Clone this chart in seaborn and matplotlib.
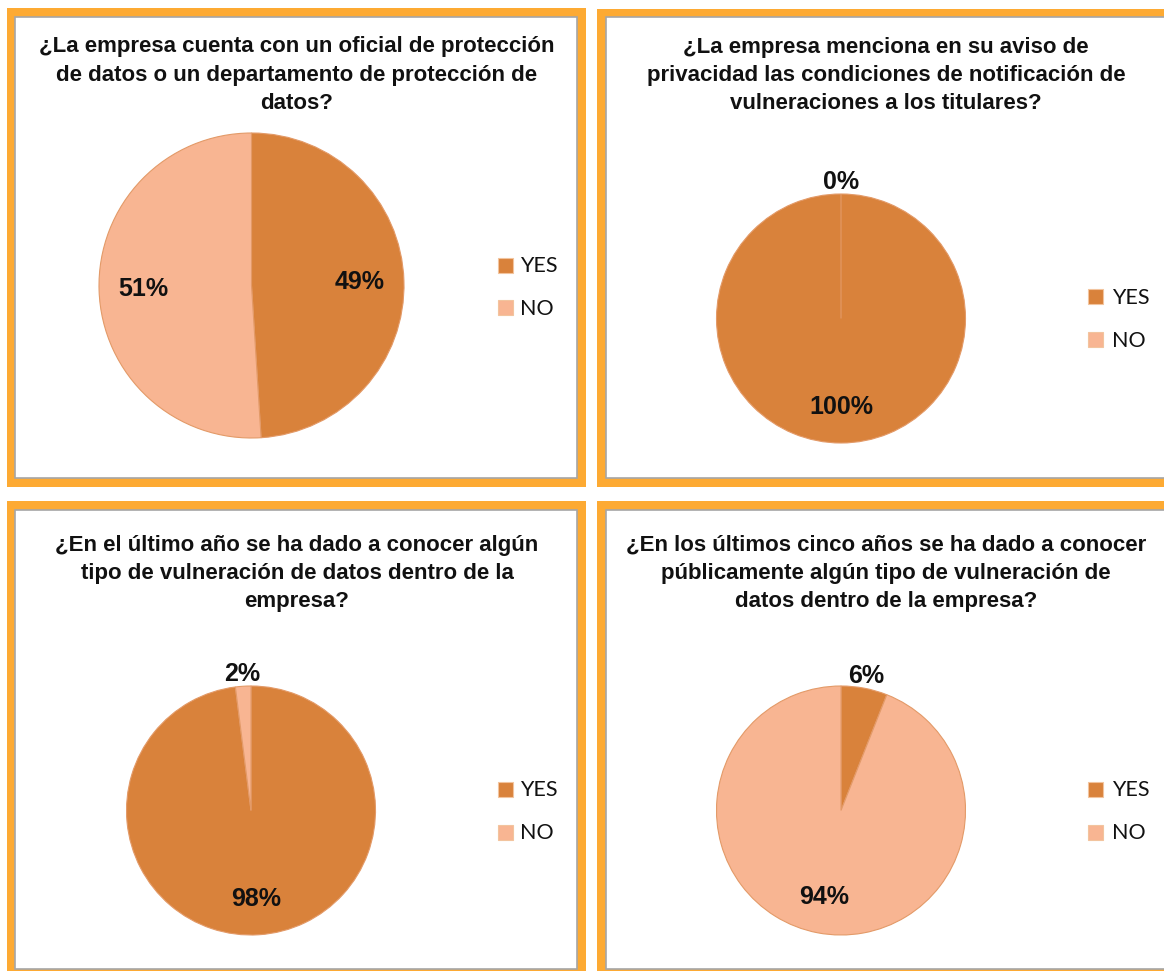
import matplotlib
matplotlib.use("Agg")
import matplotlib.pyplot as plt
from matplotlib.patches import Rectangle
import numpy as np
import seaborn as sns

# ---------------- data ----------------
categories = ["YES", "NO"]
titles = [
    "¿La empresa cuenta con un oficial de protección\nde datos o un departamento de protección de\ndatos?",
    "¿La empresa menciona en su aviso de\nprivacidad las condiciones de notificación de\nvulneraciones a los titulares?",
    "¿En el último año se ha dado a conocer algún\ntipo de vulneración de datos dentro de la\nempresa?",
    "¿En los últimos cinco años se ha dado a conocer\npúblicamente algún tipo de vulneración de\ndatos dentro de la empresa?",
]
q1_values = [49, 51]
q2_values = [100, 0]
q3_values = [98, 2]
q4_values = [6, 94]
all_values = [q1_values, q2_values, q3_values, q4_values]

# ---------------- style ----------------
sns.set_theme(style="white")
plt.rcParams["font.family"] = ["Liberation Sans", "DejaVu Sans"]
palette = sns.color_palette(["#D9823B", "#F8B592"])
ORANGE = "#FDAA33"
GRAY = "#A6A6A6"

W, H = 1164, 971
fig = plt.figure(figsize=(W / 100, H / 100), dpi=100)
fig.patch.set_facecolor("white")


def frect(x0, y0, x1, y1, **kw):
    r = Rectangle((x0 / W, 1 - y1 / H), (x1 - x0) / W, (y1 - y0) / H,
                  transform=fig.transFigure, **kw)
    fig.add_artist(r)
    return r


# panel layout (pixels)
panels = [
    dict(outer=(7, 8, 586, 487), inner=(15, 17, 577, 478), title_xy=(297, 75),
         center=(251.5, 285.5), r=152.5, leg=(505, 265, 520)),
    dict(outer=(597, 9, 1190, 487), inner=(606, 17, 1190, 478), title_xy=(886, 75.5),
         center=(841, 318.5), r=124.5, leg=(1095, 297, 1112)),
    dict(outer=(7, 501, 586, 1000), inner=(15, 510, 577, 969), title_xy=(297, 573.5),
         center=(251, 810.5), r=124.5, leg=(505, 789, 520)),
    dict(outer=(597, 501, 1190, 1000), inner=(606, 510, 1190, 969), title_xy=(886, 573.5),
         center=(841, 810.5), r=124.5, leg=(1095, 789, 1112)),
]

for p, title, vals in zip(panels, titles, all_values):
    frect(*p["outer"], facecolor=ORANGE, edgecolor="none", zorder=-3)
    frect(*p["inner"], facecolor="white", edgecolor=GRAY, linewidth=1.2, zorder=-2)

    tx, ty = p["title_xy"]
    fig.text(tx / W, 1 - ty / H, title, ha="center", va="center",
             fontsize=16, fontweight="bold", color="#111111", linespacing=1.44,
             family=["Liberation Sans", "DejaVu Sans"])

    cx, cy = p["center"]
    r = p["r"]
    ax = fig.add_axes([(cx - r) / W, 1 - (cy + r) / H, 2 * r / W, 2 * r / H])
    ax.set_zorder(2)
    ax.set_facecolor("none")
    wedges, _ = ax.pie(vals, colors=palette, startangle=90, counterclock=False,
                       wedgeprops=dict(edgecolor="#E39A68", linewidth=0.8))
    ax.set_xlim(-1, 1)
    ax.set_ylim(-1, 1)
    ax.set_aspect("equal")
    ax.axis("off")

    total = sum(vals)
    for w, v in zip(wedges, vals):
        ang = np.deg2rad((w.theta1 + w.theta2) / 2)
        pct = 100 * v / total
        dist = 0.71 if pct >= 10 else 1.10
        ax.text(dist * np.cos(ang), dist * np.sin(ang), f"{pct:.0f}%",
                ha="center", va="center", fontsize=18, fontweight="bold",
                color="#111111", clip_on=False)

    lx, ly, ltx = p["leg"]
    s = 15
    for i, (cat, col) in enumerate(zip(categories, palette)):
        yy = ly + i * 43
        frect(lx - s / 2, yy - s / 2, lx + s / 2, yy + s / 2, facecolor=col,
              edgecolor="#F2C49E", linewidth=0.8, zorder=2)
        fig.text(ltx / W, 1 - (yy + 1) / H, cat, ha="left", va="center",
                 fontsize=15.5, color="#111111", family=["Lato", "DejaVu Sans"])

fig.savefig("out.png", dpi=100, facecolor="white")
